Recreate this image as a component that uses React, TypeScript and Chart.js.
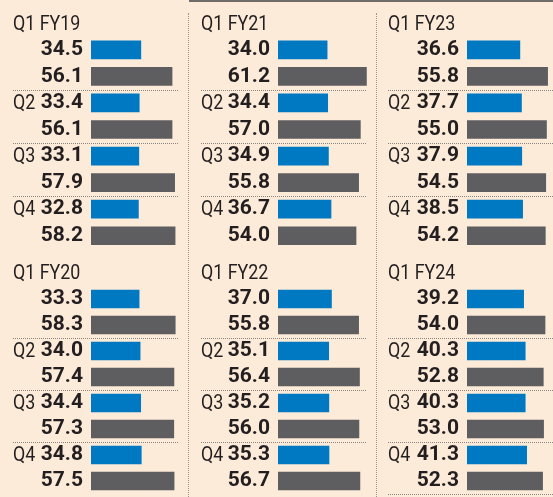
import React, { useEffect, useRef } from "react";
import { Chart, registerables } from "chart.js";

Chart.register(...registerables);

// ---- data ----
const quarters = ["Q1", "Q2", "Q3", "Q4"];
const fy19Blue = [34.5, 33.4, 33.1, 32.8];
const fy19Gray = [56.1, 56.1, 57.9, 58.2];
const fy20Blue = [33.3, 34.0, 34.4, 34.8];
const fy20Gray = [58.3, 57.4, 57.3, 57.5];
const fy21Blue = [34.0, 34.4, 34.9, 36.7];
const fy21Gray = [61.2, 57.0, 55.8, 54.0];
const fy22Blue = [37.0, 35.1, 35.2, 35.3];
const fy22Gray = [55.8, 56.4, 56.0, 56.7];
const fy23Blue = [36.6, 37.7, 37.9, 38.5];
const fy23Gray = [55.8, 55.0, 54.5, 54.2];
const fy24Blue = [39.2, 40.3, 40.3, 41.3];
const fy24Gray = [54.0, 52.8, 53.0, 52.3];

// ---- style ----
const BG = "#fdebd9";
const BLUE = "#0079c2";
const GRAY = "#5e5e60";
const TEXT = "#231f20";
const FONT = "Roboto, 'Liberation Sans', sans-serif";
const PX_PER_UNIT = 1.445;

type Panel = {
  fy: string;
  blue: number[];
  gray: number[];
  left: number;
  top: number;
  width: number;
  height: number;
  axisW: number;
  textLeft: number;
  lineRight: number;
  padBottom: number;
  endLine: boolean;
};

const panels: Panel[] = [
  { fy: "FY19", blue: fy19Blue, gray: fy19Gray, left: 0, top: 10, width: 188, height: 239, axisW: 91, textLeft: 13, lineRight: 178, padBottom: 0, endLine: false },
  { fy: "FY20", blue: fy20Blue, gray: fy20Gray, left: 0, top: 260, width: 188, height: 237, axisW: 91, textLeft: 13, lineRight: 178, padBottom: 3, endLine: false },
  { fy: "FY21", blue: fy21Blue, gray: fy21Gray, left: 189, top: 10, width: 187, height: 239, axisW: 89, textLeft: 12, lineRight: 177, padBottom: 0, endLine: false },
  { fy: "FY22", blue: fy22Blue, gray: fy22Gray, left: 189, top: 260, width: 187, height: 237, axisW: 89, textLeft: 12, lineRight: 177, padBottom: 3, endLine: false },
  { fy: "FY23", blue: fy23Blue, gray: fy23Gray, left: 377, top: 10, width: 176, height: 239, axisW: 90, textLeft: 11, lineRight: 176, padBottom: 0, endLine: false },
  { fy: "FY24", blue: fy24Blue, gray: fy24Gray, left: 377, top: 260, width: 176, height: 237, axisW: 90, textLeft: 11, lineRight: 176, padBottom: 3, endLine: true },
];

function PanelChart({ p }: { p: Panel }) {
  const ref = useRef<HTMLCanvasElement | null>(null);
  useEffect(() => {
    if (!ref.current) return;
    const values: (number | null)[] = [null];
    const colors: string[] = ["rgba(0,0,0,0)"];
    const tickLabels: string[] = [""];
    const rowLabels: string[] = [quarters[0] + " " + p.fy];
    quarters.forEach((q, i) => {
      values.push(p.blue[i], p.gray[i]);
      colors.push(BLUE, GRAY);
      tickLabels.push(p.blue[i].toFixed(1), p.gray[i].toFixed(1));
      rowLabels.push(i === 0 ? "" : q, "");
    });
    const xMax = (p.width - p.axisW) / PX_PER_UNIT;

    const decor = {
      id: "decor",
      afterDraw(chart: any) {
        const ctx = chart.ctx;
        const ys = chart.scales.y;
        const pix = (i: number) => ys.getPixelForValue(i);
        ctx.save();
        ctx.fillStyle = TEXT;
        ctx.font = `21px ${FONT}`;
        ctx.textAlign = "left";
        ctx.textBaseline = "middle";
        rowLabels.forEach((t, i) => {
          if (!t) return;
          ctx.save();
          ctx.translate(p.textLeft, pix(i) + 1);
          ctx.scale(0.85, 1);
          ctx.fillText(t, 0, 0);
          ctx.restore();
        });
        ctx.strokeStyle = "#8a8580";
        ctx.lineWidth = 1;
        ctx.setLineDash([1, 1]);
        const seps: number[] = [];
        for (let i = 2; i < 8; i += 2) seps.push((pix(i) + pix(i + 1)) / 2);
        if (p.endLine) seps.push(pix(8) + (pix(8) - pix(7)) / 2);
        seps.forEach((y) => {
          const yy = Math.round(y) + 0.5;
          ctx.beginPath();
          ctx.moveTo(p.textLeft, yy);
          ctx.lineTo(p.lineRight, yy);
          ctx.stroke();
        });
        ctx.restore();
      },
    };

    const chart = new Chart(ref.current, {
      type: "bar",
      data: {
        labels: tickLabels,
        datasets: [
          {
            data: values,
            backgroundColor: colors,
            barThickness: 18,
            borderWidth: 0,
          },
        ],
      },
      options: {
        indexAxis: "y",
        responsive: false,
        animation: false,
        maintainAspectRatio: false,
        layout: { padding: { left: 0, right: 0, top: 0, bottom: p.padBottom } },
        plugins: { legend: { display: false }, tooltip: { enabled: false }, title: { display: false } },
        scales: {
          x: { display: false, min: 0, max: xMax },
          y: {
            grid: { display: false, drawTicks: false },
            border: { display: false },
            ticks: {
              autoSkip: false,
              padding: 8,
              color: TEXT,
              font: { family: FONT, size: 21, weight: "bold" },
            },
            afterFit: (s: any) => {
              s.width = p.axisW;
              s.paddingTop = 0;
              s.paddingBottom = 0;
            },
          },
        },
      } as any,
      plugins: [decor],
    });
    return () => chart.destroy();
  }, [p]);
  return (
    <canvas
      ref={ref}
      width={p.width}
      height={p.height}
      style={{ position: "absolute", left: p.left, top: p.top, width: p.width, height: p.height }}
    />
  );
}

export default function App() {
  return (
    <div style={{ position: "absolute", left: 0, top: 0, width: 553, height: 497, background: BG, overflow: "hidden" }}>
      <div style={{ position: "absolute", left: 189, top: 0, width: 364, height: 2, background: "#6f6c6a" }} />
      <div style={{ position: "absolute", left: 188, top: 13, width: 0, height: 484, borderLeft: "1px dotted #9a9590" }} />
      <div style={{ position: "absolute", left: 376, top: 13, width: 0, height: 484, borderLeft: "1px dotted #9a9590" }} />
      {panels.map((p) => (
        <PanelChart key={p.fy} p={p} />
      ))}
    </div>
  );
}
